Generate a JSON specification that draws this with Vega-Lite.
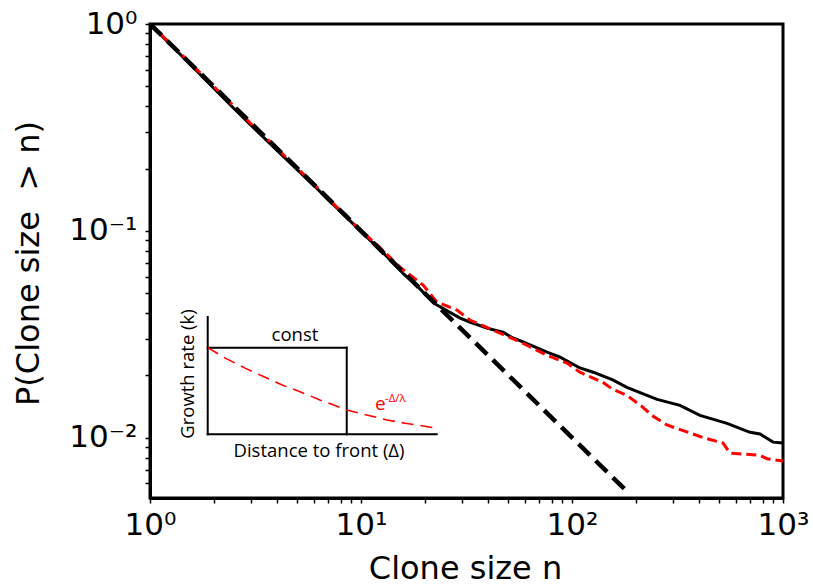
{
  "$schema": "https://vega.github.io/schema/vega-lite/v6.json",
  "width": 633,
  "height": 474,
  "autosize": {"type": "none"},
  "padding": {"left": 150, "top": 24, "right": 30, "bottom": 89},
  "background": "white",
  "config": {
    "view": {"stroke": "black", "strokeWidth": 3},
    "font": "DejaVu Sans"
  },
  "datasets": {
    "constant": [
      {"n": 1, "p": 1.0}, {"n": 1.5, "p": 0.66}, {"n": 2, "p": 0.49}, {"n": 2.5, "p": 0.39},
      {"n": 3, "p": 0.325}, {"n": 4, "p": 0.245}, {"n": 5, "p": 0.197}, {"n": 6, "p": 0.165},
      {"n": 7, "p": 0.141}, {"n": 8, "p": 0.124}, {"n": 10, "p": 0.099}, {"n": 12, "p": 0.083},
      {"n": 14, "p": 0.071}, {"n": 16, "p": 0.0615}, {"n": 18, "p": 0.0555}, {"n": 21.9, "p": 0.0452},
      {"n": 22.9, "p": 0.0437}, {"n": 29.5, "p": 0.0378}, {"n": 32.8, "p": 0.0362}, {"n": 39.5, "p": 0.0338},
      {"n": 47.1, "p": 0.0323}, {"n": 52.5, "p": 0.0303}, {"n": 58.6, "p": 0.029}, {"n": 76.1, "p": 0.0259},
      {"n": 87.8, "p": 0.0245}, {"n": 109, "p": 0.0217}, {"n": 126, "p": 0.0207}, {"n": 156, "p": 0.019},
      {"n": 182, "p": 0.0175}, {"n": 253, "p": 0.0153}, {"n": 325, "p": 0.0143}, {"n": 404, "p": 0.0128},
      {"n": 543, "p": 0.0117}, {"n": 698, "p": 0.0106}, {"n": 778, "p": 0.0104}, {"n": 897, "p": 0.0095},
      {"n": 1000, "p": 0.0094}
    ],
    "exponential": [
      {"n": 1, "p": 1.0}, {"n": 1.5, "p": 0.67}, {"n": 2, "p": 0.5}, {"n": 2.5, "p": 0.4},
      {"n": 3, "p": 0.33}, {"n": 4, "p": 0.25}, {"n": 5, "p": 0.2}, {"n": 6, "p": 0.168},
      {"n": 7, "p": 0.143}, {"n": 8, "p": 0.125}, {"n": 10, "p": 0.1}, {"n": 12, "p": 0.085},
      {"n": 15.3, "p": 0.0667}, {"n": 19.7, "p": 0.0546}, {"n": 22.9, "p": 0.0452}, {"n": 28.5, "p": 0.0413},
      {"n": 32.8, "p": 0.037}, {"n": 42.2, "p": 0.0331}, {"n": 56.7, "p": 0.029}, {"n": 76.1, "p": 0.025},
      {"n": 94.7, "p": 0.0229}, {"n": 109, "p": 0.0207}, {"n": 140, "p": 0.0185}, {"n": 156, "p": 0.0171},
      {"n": 182, "p": 0.016}, {"n": 217, "p": 0.014}, {"n": 239, "p": 0.0128}, {"n": 282, "p": 0.0115},
      {"n": 418, "p": 0.01}, {"n": 520, "p": 0.0094}, {"n": 561, "p": 0.0084}, {"n": 778, "p": 0.0082},
      {"n": 840, "p": 0.0079}, {"n": 1000, "p": 0.0077}
    ],
    "power_law": [
      {"n": 1, "p": 1.0}, {"n": 188, "p": 0.00532}
    ],
    "inset_frame": [
      {"x1": 0, "x2": 0, "y1": 0, "y2": 1.354},
      {"x1": 0, "x2": 1, "y1": 0, "y2": 0},
      {"x1": 0, "x2": 0.607, "y1": 1, "y2": 1},
      {"x1": 0.607, "x2": 0.607, "y1": 0, "y2": 1}
    ],
    "inset_decay": [
      {"d": 0, "k": 1.0}, {"d": 0.077, "k": 0.879}, {"d": 0.163, "k": 0.764}, {"d": 0.243, "k": 0.667},
      {"d": 0.323, "k": 0.571}, {"d": 0.403, "k": 0.492}, {"d": 0.49, "k": 0.396}, {"d": 0.57, "k": 0.319},
      {"d": 0.607, "k": 0.281}, {"d": 0.694, "k": 0.223}, {"d": 0.782, "k": 0.165}, {"d": 0.862, "k": 0.127},
      {"d": 0.941, "k": 0.096}, {"d": 1.0, "k": 0.069}
    ],
    "inset_text": [
      {"d": 0.381, "k": 1.077, "label": "const"},
      {"d": 0.486, "k": -0.262, "label": "Distance to front (Δ)"}
    ]
  },
  "layer": [
    {
      "encoding": {
        "x": {
          "field": "n", "type": "quantitative",
          "scale": {"type": "log", "domain": [1, 1000], "nice": false},
          "axis": {
            "values": [1, 2, 3, 4, 5, 6, 7, 8, 9, 10, 20, 30, 40, 50, 60, 70, 80, 90, 100, 200, 300, 400, 500, 600, 700, 800, 900, 1000],
            "labelExpr": "datum.value == 1 ? '10⁰' : datum.value == 10 ? '10¹' : datum.value == 100 ? '10²' : datum.value == 1000 ? '10³' : ''",
            "grid": false, "domainColor": "black", "domainWidth": 3,
            "tickColor": "black", "tickWidth": 1.5, "tickSize": 5,
            "labelFont": "DejaVu Sans", "labelFontSize": 31, "labelColor": "black",
            "labelPadding": 7, "labelFlush": false, "labelOverlap": false, "labelBound": false,
            "title": "Clone size n", "titleFont": "DejaVu Sans", "titleFontSize": 32,
            "titleFontWeight": "normal", "titleColor": "black",
            "titleX": 315, "titleY": 80, "titleBaseline": "alphabetic", "titleAlign": "center"
          }
        },
        "y": {
          "field": "p", "type": "quantitative",
          "scale": {"type": "log", "domain": [0.0051, 1], "nice": false},
          "axis": {
            "values": [0.006, 0.007, 0.008, 0.009, 0.01, 0.02, 0.03, 0.04, 0.05, 0.06, 0.07, 0.08, 0.09, 0.1, 0.2, 0.3, 0.4, 0.5, 0.6, 0.7, 0.8, 0.9, 1],
            "labelExpr": "datum.value == 1 ? '10⁰' : datum.value == 0.1 ? '10⁻¹' : datum.value == 0.01 ? '10⁻²' : ''",
            "grid": false, "domainColor": "black", "domainWidth": 3,
            "tickColor": "black", "tickWidth": 1.5, "tickSize": 5,
            "labelFont": "DejaVu Sans", "labelFontSize": 31, "labelColor": "black",
            "labelPadding": 8, "labelFlush": false, "labelOverlap": false, "labelBound": false,
            "labelBaseline": "middle",
            "title": "P(Clone size\u00a0 > n)", "titleFont": "DejaVu Sans", "titleFontSize": 32,
            "titleFontWeight": "normal", "titleColor": "black",
            "titleAngle": -90, "titleX": -112, "titleY": 239,
            "titleBaseline": "alphabetic", "titleAlign": "center"
          }
        }
      },
      "layer": [
        {
          "data": {"name": "constant"},
          "mark": {"type": "line", "color": "black", "strokeWidth": 3, "clip": true}
        },
        {
          "data": {"name": "exponential"},
          "mark": {"type": "line", "color": "#ff0000", "strokeWidth": 3, "strokeDash": [10, 5], "clip": true}
        },
        {
          "data": {"name": "power_law"},
          "mark": {"type": "line", "color": "black", "strokeWidth": 4.5, "strokeDash": [16, 8], "clip": true}
        }
      ]
    },
    {
      "layer": [
        {
          "data": {"name": "inset_frame"},
          "mark": {"type": "rule", "color": "black", "strokeWidth": 2, "strokeCap": "square"},
          "encoding": {
            "x": {"field": "x1", "type": "quantitative", "scale": {"domain": [-0.252, 2.512], "nice": false, "zero": false}, "axis": null},
            "x2": {"field": "x2"},
            "y": {"field": "y1", "type": "quantitative", "scale": {"domain": [-0.736, 4.738], "nice": false, "zero": false}, "axis": null},
            "y2": {"field": "y2"}
          }
        },
        {
          "data": {"name": "inset_decay"},
          "mark": {"type": "line", "color": "#ff0000", "strokeWidth": 1.6, "strokeDash": [12, 7]},
          "encoding": {
            "x": {"field": "d", "type": "quantitative", "scale": {"domain": [-0.252, 2.512], "nice": false, "zero": false}, "axis": null},
            "y": {"field": "k", "type": "quantitative", "scale": {"domain": [-0.736, 4.738], "nice": false, "zero": false}, "axis": null}
          }
        },
        {
          "data": {"name": "inset_text"},
          "mark": {"type": "text", "font": "Open Sans", "fontSize": 18.5, "color": "black", "align": "center", "baseline": "alphabetic"},
          "encoding": {
            "x": {"field": "d", "type": "quantitative", "scale": {"domain": [-0.252, 2.512], "nice": false, "zero": false}, "axis": null},
            "y": {"field": "k", "type": "quantitative", "scale": {"domain": [-0.736, 4.738], "nice": false, "zero": false}, "axis": null},
            "text": {"field": "label"}
          }
        },
        {
          "data": {"values": [{"d": -0.06, "k": 0.696, "label": "Growth rate (k)"}]},
          "mark": {"type": "text", "font": "Open Sans", "fontSize": 18.5, "color": "black", "align": "center", "baseline": "alphabetic", "angle": 270},
          "encoding": {
            "x": {"field": "d", "type": "quantitative", "scale": {"domain": [-0.252, 2.512], "nice": false, "zero": false}, "axis": null},
            "y": {"field": "k", "type": "quantitative", "scale": {"domain": [-0.736, 4.738], "nice": false, "zero": false}, "axis": null},
            "text": {"field": "label"}
          }
        },
        {
          "data": {"values": [{"d": 0.731, "k": 0.281, "label": "e"}]},
          "mark": {"type": "text", "font": "Open Sans", "fontSize": 19, "color": "#ff0000", "align": "left", "baseline": "alphabetic"},
          "encoding": {
            "x": {"field": "d", "type": "quantitative", "scale": {"domain": [-0.252, 2.512], "nice": false, "zero": false}, "axis": null},
            "y": {"field": "k", "type": "quantitative", "scale": {"domain": [-0.736, 4.738], "nice": false, "zero": false}, "axis": null},
            "text": {"field": "label"}
          }
        },
        {
          "data": {"values": [{"d": 0.774, "k": 0.372, "label": "-Δ/λ"}]},
          "mark": {"type": "text", "font": "Open Sans", "fontSize": 11.5, "color": "#ff0000", "align": "left", "baseline": "alphabetic"},
          "encoding": {
            "x": {"field": "d", "type": "quantitative", "scale": {"domain": [-0.252, 2.512], "nice": false, "zero": false}, "axis": null},
            "y": {"field": "k", "type": "quantitative", "scale": {"domain": [-0.736, 4.738], "nice": false, "zero": false}, "axis": null},
            "text": {"field": "label"}
          }
        }
      ]
    }
  ],
  "resolve": {"scale": {"x": "independent", "y": "independent"}}
}
